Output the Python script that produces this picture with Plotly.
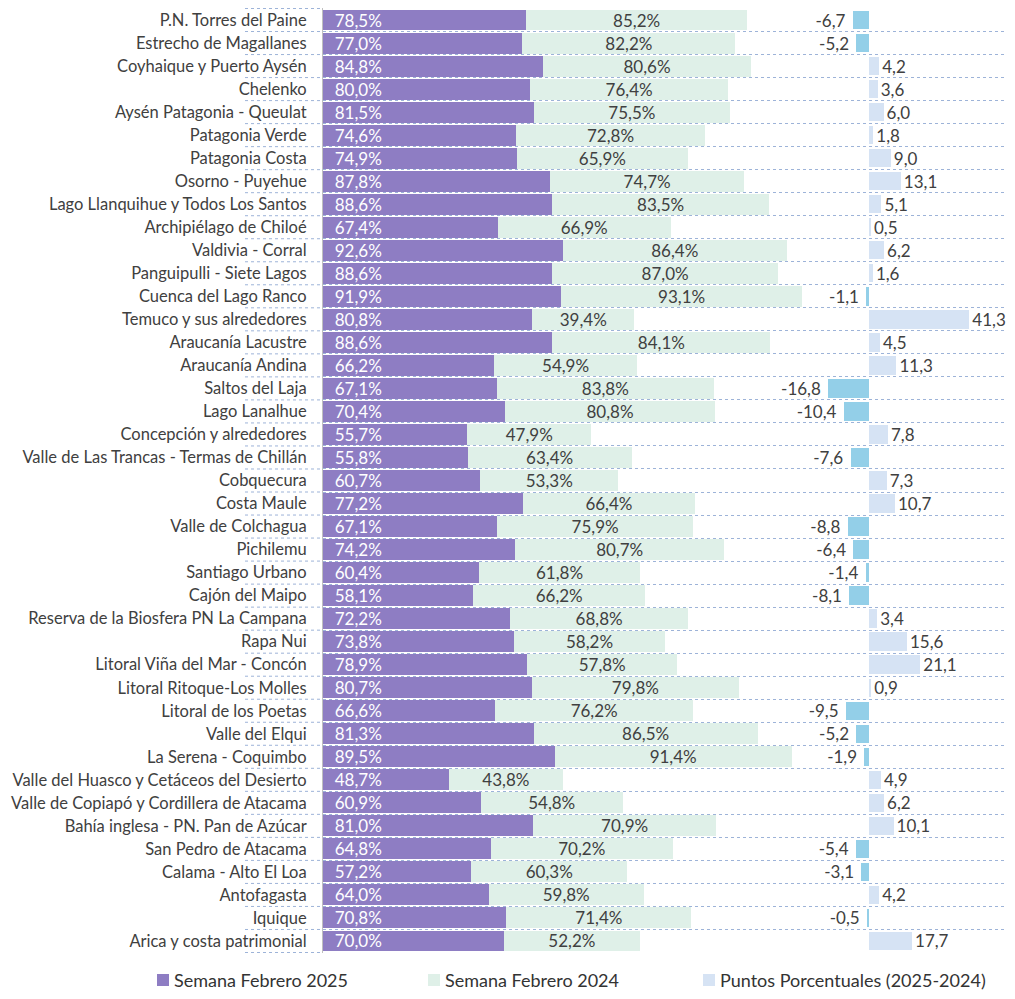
import plotly.graph_objects as go

categories = [
    "P.N. Torres del Paine", "Estrecho de Magallanes", "Coyhaique y Puerto Aysén",
    "Chelenko", "Aysén Patagonia - Queulat", "Patagonia Verde", "Patagonia Costa",
    "Osorno - Puyehue", "Lago Llanquihue y Todos Los Santos", "Archipiélago de Chiloé",
    "Valdivia - Corral", "Panguipulli - Siete Lagos", "Cuenca del Lago Ranco",
    "Temuco y sus alrededores", "Araucanía Lacustre", "Araucanía Andina",
    "Saltos del Laja", "Lago Lanalhue", "Concepción y alrededores",
    "Valle de Las Trancas - Termas de Chillán", "Cobquecura", "Costa Maule",
    "Valle de Colchagua", "Pichilemu", "Santiago Urbano", "Cajón del Maipo",
    "Reserva de la Biosfera PN La Campana", "Rapa Nui", "Litoral Viña del Mar - Concón",
    "Litoral Ritoque-Los Molles", "Litoral de los Poetas", "Valle del Elqui",
    "La Serena - Coquimbo", "Valle del Huasco y Cetáceos del Desierto",
    "Valle de Copiapó y Cordillera de Atacama", "Bahía inglesa - PN. Pan de Azúcar",
    "San Pedro de Atacama", "Calama - Alto El Loa", "Antofagasta", "Iquique",
    "Arica y costa patrimonial",
]

feb_2025 = [78.5, 77.0, 84.8, 80.0, 81.5, 74.6, 74.9, 87.8, 88.6, 67.4, 92.6, 88.6, 91.9,
            80.8, 88.6, 66.2, 67.1, 70.4, 55.7, 55.8, 60.7, 77.2, 67.1, 74.2, 60.4, 58.1,
            72.2, 73.8, 78.9, 80.7, 66.6, 81.3, 89.5, 48.7, 60.9, 81.0, 64.8, 57.2, 64.0,
            70.8, 70.0]

feb_2024 = [85.2, 82.2, 80.6, 76.4, 75.5, 72.8, 65.9, 74.7, 83.5, 66.9, 86.4, 87.0, 93.1,
            39.4, 84.1, 54.9, 83.8, 80.8, 47.9, 63.4, 53.3, 66.4, 75.9, 80.7, 61.8, 66.2,
            68.8, 58.2, 57.8, 79.8, 76.2, 86.5, 91.4, 43.8, 54.8, 70.9, 70.2, 60.3, 59.8,
            71.4, 52.2]

puntos = [-6.7, -5.2, 4.2, 3.6, 6.0, 1.8, 9.0, 13.1, 5.1, 0.5, 6.2, 1.6, -1.1, 41.3, 4.5,
          11.3, -16.8, -10.4, 7.8, -7.6, 7.3, 10.7, -8.8, -6.4, -1.4, -8.1, 3.4, 15.6,
          21.1, 0.9, -9.5, -5.2, -1.9, 4.9, 6.2, 10.1, -5.4, -3.1, 4.2, -0.5, 17.7]

series_names = ["Semana Febrero 2025", "Semana Febrero 2024", "Puntos Porcentuales (2025-2024)"]

PURPLE = "#8e7dc3"
GREEN = "#dff0e8"
BLUE_POS = "#d6e3f4"
BLUE_NEG = "#93cfe8"
TXT = "#404040"
GRID = "#9db3d8"
FONT = "Lato"

# the page body has an 8px margin on every side; keep the figure inside the window
OFF = 8
W, H = 1015 - 2 * OFF, 999 - 2 * OFF
ML, MR, MT, MB = 323 - OFF, 2, 0, 38
PW, PH = W - ML - MR, H - MT - MB

MAIN_PX_PER_UNIT = 2.59
DELTA_ZERO_PX = 869
DELTA_PX_PER_UNIT = 2.43


def px_x(px):
    return (px - OFF - ML) / PW


def px_y(py):
    return (H - MB - (py - OFF)) / PH


def fmt(v, pct=False):
    s = f"{v:.1f}".replace(".", ",")
    return s + "%" if pct else s


fig = go.Figure()

fig.add_trace(go.Bar(
    y=categories, x=feb_2025, orientation="h", name=series_names[0],
    marker=dict(color=PURPLE, line=dict(width=0)),
    text=["\u00a0\u00a0" + fmt(v, True) for v in feb_2025],
    textposition="inside", insidetextanchor="start", constraintext="none",
    textfont=dict(color="white", size=17, family=FONT),
    xaxis="x", yaxis="y", hoverinfo="skip",
))
fig.add_trace(go.Bar(
    y=categories, x=feb_2024, orientation="h", name=series_names[1],
    marker=dict(color=GREEN, line=dict(width=0)),
    text=[fmt(v, True) for v in feb_2024],
    textposition="inside", insidetextanchor="middle", constraintext="none",
    textfont=dict(color=TXT, size=17, family=FONT),
    xaxis="x", yaxis="y", hoverinfo="skip",
))
fig.add_trace(go.Bar(
    y=categories, x=puntos, orientation="h", name=series_names[2],
    marker=dict(color=[BLUE_NEG if v < 0 else BLUE_POS for v in puntos], line=dict(width=0)),
    text=[fmt(v) + ("\u00a0" if v < 0 else "") for v in puntos],
    textposition="outside", constraintext="none", cliponaxis=False,
    textfont=dict(color=TXT, size=17, family=FONT),
    xaxis="x2", yaxis="y", hoverinfo="skip", width=0.8,
))

shapes = []
# dotted guide lines extending under the category labels
for k in range(len(categories) + 1):
    shapes.append(dict(type="line", xref="paper", yref="y", x0=px_x(245), x1=0,
                       y0=k - 0.5, y1=k - 0.5,
                       line=dict(color=GRID, width=1, dash="dot"), layer="below"))

# legend drawn as squares + text
legend_items = [(157, PURPLE), (428, GREEN), (703, BLUE_POS)]
annotations = []
for (sx, col), name in zip(legend_items, series_names):
    shapes.append(dict(type="rect", xref="paper", yref="paper",
                       x0=px_x(sx), x1=px_x(sx + 12), y0=px_y(986), y1=px_y(974),
                       fillcolor=col, line=dict(width=0)))
    annotations.append(dict(xref="paper", yref="paper", x=px_x(sx + 15), y=px_y(980),
                            xanchor="left", yanchor="middle", showarrow=False,
                            text=name, font=dict(size=18, color="#333333", family=FONT)))

delta_left = -(DELTA_ZERO_PX - OFF - ML) / DELTA_PX_PER_UNIT
delta_right = (PW - (DELTA_ZERO_PX - OFF - ML)) / DELTA_PX_PER_UNIT

fig.update_layout(
    width=W, height=H,
    margin=dict(l=ML, r=MR, t=MT, b=MB, autoexpand=False),
    paper_bgcolor="white", plot_bgcolor="white",
    barmode="stack", bargap=0.09,
    font=dict(family=FONT, color=TXT, size=16),
    showlegend=False,
    xaxis=dict(range=[0, PW / MAIN_PX_PER_UNIT], visible=False, fixedrange=True,
               automargin=False),
    xaxis2=dict(range=[delta_left, delta_right], overlaying="x", visible=False,
                fixedrange=True, automargin=False),
    yaxis=dict(autorange="reversed", tickson="boundaries", showgrid=True,
               gridcolor=GRID, griddash="dot", gridwidth=1, automargin=False,
               showline=True, linecolor="#bfbfbf", linewidth=1, ticks="",
               ticklabelstandoff=12,
               tickfont=dict(size=16.5, color=TXT, family=FONT)),
    shapes=shapes,
    annotations=annotations,
)

fig.write_html("out.html")
